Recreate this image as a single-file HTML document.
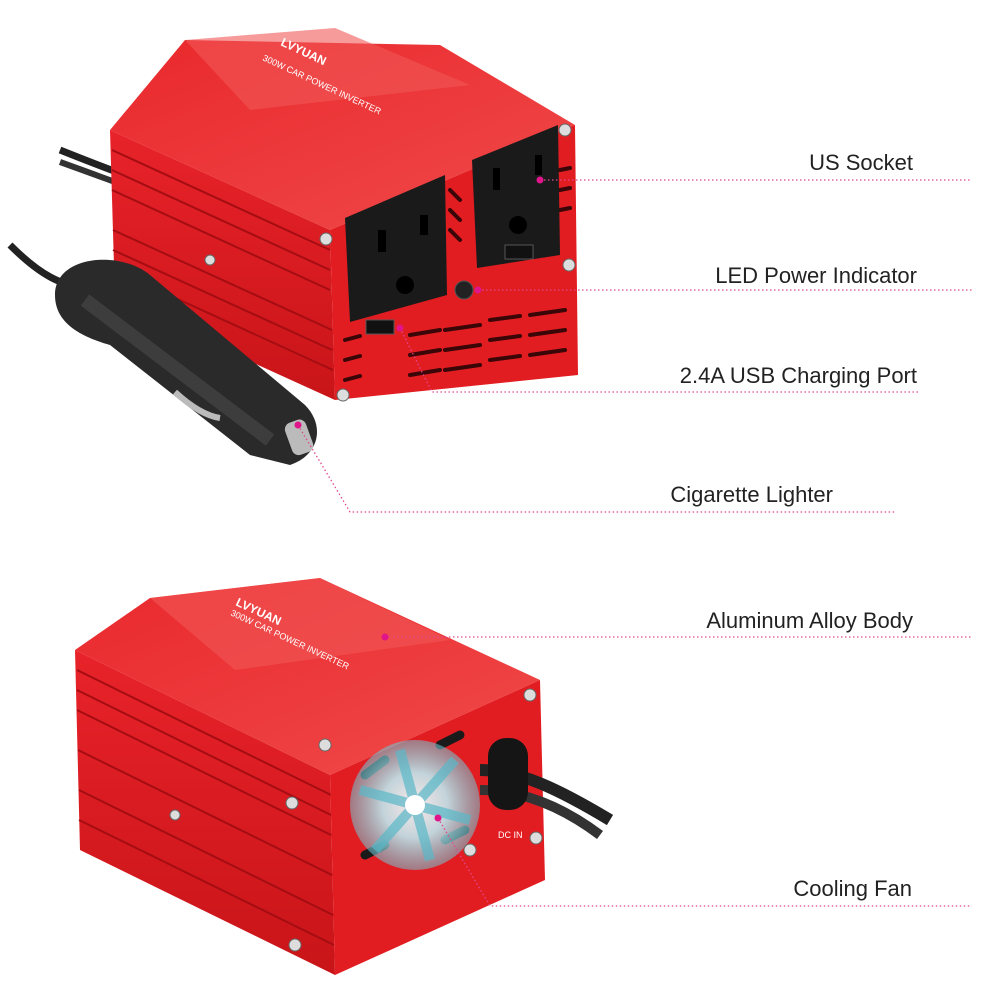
<!DOCTYPE html>
<html><head><meta charset="utf-8"><style>
html,body{margin:0;padding:0;background:#fff}
svg{display:block}
text{font-family:"Liberation Sans",sans-serif}
</style></head><body>
<svg width="1000" height="1000" viewBox="0 0 1000 1000" xmlns="http://www.w3.org/2000/svg">
<defs>
<linearGradient id="side" x1="0" y1="0" x2="0" y2="1"><stop offset="0" stop-color="#e8232a"/><stop offset="1" stop-color="#c81418"/></linearGradient>
<linearGradient id="top" x1="0" y1="0" x2="1" y2="1"><stop offset="0" stop-color="#e9282c"/><stop offset="1" stop-color="#f04a4a"/></linearGradient>
<radialGradient id="fan" cx="0.5" cy="0.5" r="0.5"><stop offset="0" stop-color="#fff"/><stop offset="0.5" stop-color="#bfe8ee"/><stop offset="1" stop-color="#6fc6d4" stop-opacity="0.6"/></radialGradient>
</defs>

<path d="M60 150 C110 170 150 185 200 200" stroke="#222" stroke-width="7" fill="none"/>
<path d="M60 162 C110 180 150 195 200 212" stroke="#333" stroke-width="6" fill="none"/>
<path d="M10 245 C40 275 60 285 90 290" stroke="#222" stroke-width="7" fill="none"/>

<polygon points="110,130 185,40 440,45 575,125 330,230" fill="url(#top)"/>
<polygon points="185,40 335,28 470,85 250,110" fill="#f25656" opacity="0.6"/>
<polygon points="110,130 330,230 335,400 115,300" fill="url(#side)"/>
<g stroke="#a50d12" stroke-width="2">
<line x1="112" y1="150" x2="330" y2="250"/><line x1="112" y1="170" x2="330" y2="270"/>
<line x1="112" y1="190" x2="330" y2="290"/><line x1="113" y1="230" x2="332" y2="330"/>
<line x1="113" y1="250" x2="332" y2="350"/><line x1="114" y1="270" x2="333" y2="370"/>
</g>
<polygon points="330,230 575,125 578,375 335,400" fill="#e21d22"/>
<g stroke="#3a0608" stroke-width="4" stroke-linecap="round">
<line x1="345" y1="340" x2="360" y2="336"/><line x1="345" y1="360" x2="360" y2="356"/><line x1="345" y1="380" x2="360" y2="376"/>
<line x1="410" y1="335" x2="440" y2="330"/><line x1="410" y1="355" x2="440" y2="350"/><line x1="410" y1="375" x2="440" y2="370"/>
<line x1="445" y1="330" x2="480" y2="325"/><line x1="445" y1="350" x2="480" y2="345"/><line x1="445" y1="370" x2="480" y2="365"/>
<line x1="490" y1="320" x2="520" y2="316"/><line x1="490" y1="340" x2="520" y2="336"/><line x1="490" y1="360" x2="520" y2="356"/>
<line x1="530" y1="315" x2="565" y2="310"/><line x1="530" y1="335" x2="565" y2="330"/><line x1="530" y1="355" x2="565" y2="350"/>
<line x1="450" y1="190" x2="460" y2="200"/><line x1="450" y1="210" x2="460" y2="220"/><line x1="450" y1="230" x2="460" y2="240"/>
<line x1="560" y1="170" x2="570" y2="168"/><line x1="560" y1="190" x2="570" y2="188"/><line x1="560" y1="210" x2="570" y2="208"/>
</g>
<polygon points="345,218 445,175 447,295 350,322" fill="#1a1a1a"/>
<polygon points="472,160 558,125 560,255 477,268" fill="#1a1a1a"/>
<g fill="#000"><rect x="378" y="230" width="8" height="22"/><rect x="420" y="215" width="8" height="20"/><circle cx="405" cy="285" r="9"/>
<rect x="493" y="168" width="7" height="22"/><rect x="535" y="155" width="7" height="20"/><circle cx="518" cy="225" r="9"/></g>
<rect x="505" y="245" width="28" height="14" fill="#111" stroke="#555"/>
<rect x="366" y="320" width="28" height="14" fill="#111" stroke="#555"/>
<circle cx="464" cy="290" r="9" fill="#222" stroke="#555"/>
<g fill="#ddd" stroke="#666"><circle cx="326" cy="239" r="6"/><circle cx="565" cy="130" r="6"/><circle cx="343" cy="395" r="6"/><circle cx="569" cy="265" r="6"/><circle cx="210" cy="260" r="5"/></g>
<text x="0" y="0" font-size="12" fill="#fff" font-weight="bold" transform="translate(280,45) rotate(25)">LVYUAN</text>
<text x="0" y="0" font-size="9" fill="#fff" transform="translate(262,60) rotate(25)">300W CAR POWER INVERTER</text>
<!-- cigarette lighter -->
<path d="M55 295 C55 255 120 250 150 275 L305 405 C325 425 320 455 290 465 L250 455 L110 345 C75 335 55 320 55 295Z" fill="#2a2a2a"/>
<path d="M85 300 L270 440" stroke="#3d3d3d" stroke-width="14"/>
<path d="M175 392 Q200 415 220 418" stroke="#bbb" stroke-width="6" fill="none"/>
<rect x="288" y="420" width="22" height="34" rx="7" fill="#bbb" transform="rotate(-20 300 437)"/>

<!-- BOTTOM DEVICE -->
<polygon points="75,650 150,598 320,578 540,680 330,775" fill="url(#top)"/>
<polygon points="150,598 320,578 450,640 235,670" fill="#f25656" opacity="0.6"/>
<polygon points="75,650 330,775 335,975 80,850" fill="url(#side)"/>
<g stroke="#a50d12" stroke-width="2">
<line x1="77" y1="670" x2="331" y2="795"/><line x1="77" y1="690" x2="331" y2="815"/><line x1="77" y1="710" x2="331" y2="835"/>
<line x1="78" y1="750" x2="332" y2="875"/><line x1="79" y1="790" x2="333" y2="915"/><line x1="79" y1="820" x2="334" y2="945"/>
</g>
<polygon points="330,775 540,680 545,880 335,975" fill="#e21d22"/>
<g stroke="#1a1a1a" stroke-width="9" stroke-linecap="round">
<line x1="365" y1="775" x2="385" y2="760"/><line x1="440" y1="745" x2="460" y2="735"/><line x1="365" y1="855" x2="385" y2="845"/><line x1="445" y1="840" x2="465" y2="830"/>
</g>
<circle cx="415" cy="805" r="65" fill="url(#fan)" opacity="0.9"/>
<g stroke="#5ab8c8" stroke-width="10" opacity="0.7"><line x1="360" y1="790" x2="470" y2="820"/><line x1="400" y1="750" x2="430" y2="860"/><line x1="375" y1="850" x2="455" y2="760"/></g>
<circle cx="415" cy="805" r="10" fill="#fff"/>
<path d="M480 770 C520 770 560 790 610 820" stroke="#222" stroke-width="12" fill="none"/>
<path d="M480 790 C520 790 560 805 600 835" stroke="#333" stroke-width="10" fill="none"/>
<rect x="488" y="738" width="40" height="72" rx="18" fill="#151515"/>
<text x="498" y="838" font-size="9" fill="#fff">DC IN</text>
<g fill="#ddd" stroke="#666"><circle cx="325" cy="745" r="6"/><circle cx="530" cy="695" r="6"/><circle cx="295" cy="945" r="6"/><circle cx="292" cy="803" r="6"/><circle cx="470" cy="850" r="6"/><circle cx="536" cy="838" r="6"/><circle cx="175" cy="815" r="5"/></g>
<text x="0" y="0" font-size="12" fill="#fff" font-weight="bold" transform="translate(235,605) rotate(25)">LVYUAN</text>
<text x="0" y="0" font-size="9" fill="#fff" transform="translate(230,615) rotate(25)">300W CAR POWER INVERTER</text>

<g stroke="#e0488f" stroke-width="1.3" stroke-dasharray="1.5 2.5" fill="none">
<line x1="540" y1="180" x2="972" y2="180"/>
<line x1="478" y1="290" x2="972" y2="290"/>
<polyline points="400,328 432,392 918,392"/>
<polyline points="298,425 350,512 895,512"/>
<line x1="385" y1="637" x2="972" y2="637"/>
<polyline points="438,818 490,906 972,906"/>
</g>
<g fill="#e0158a"><circle cx="540" cy="180" r="3.5"/><circle cx="478" cy="290" r="3.5"/><circle cx="400" cy="328" r="3.5"/><circle cx="298" cy="425" r="3.5"/><circle cx="385" cy="637" r="3.5"/><circle cx="438" cy="818" r="3.5"/></g>

<g font-size="22" fill="#222" text-anchor="end">
<text x="913" y="170">US Socket</text>
<text x="917" y="283">LED Power Indicator</text>
<text x="917" y="383">2.4A USB Charging Port</text>
<text x="833" y="502">Cigarette Lighter</text>
<text x="913" y="628">Aluminum Alloy Body</text>
<text x="912" y="896">Cooling Fan</text>
</g>
</svg>
</body></html>
